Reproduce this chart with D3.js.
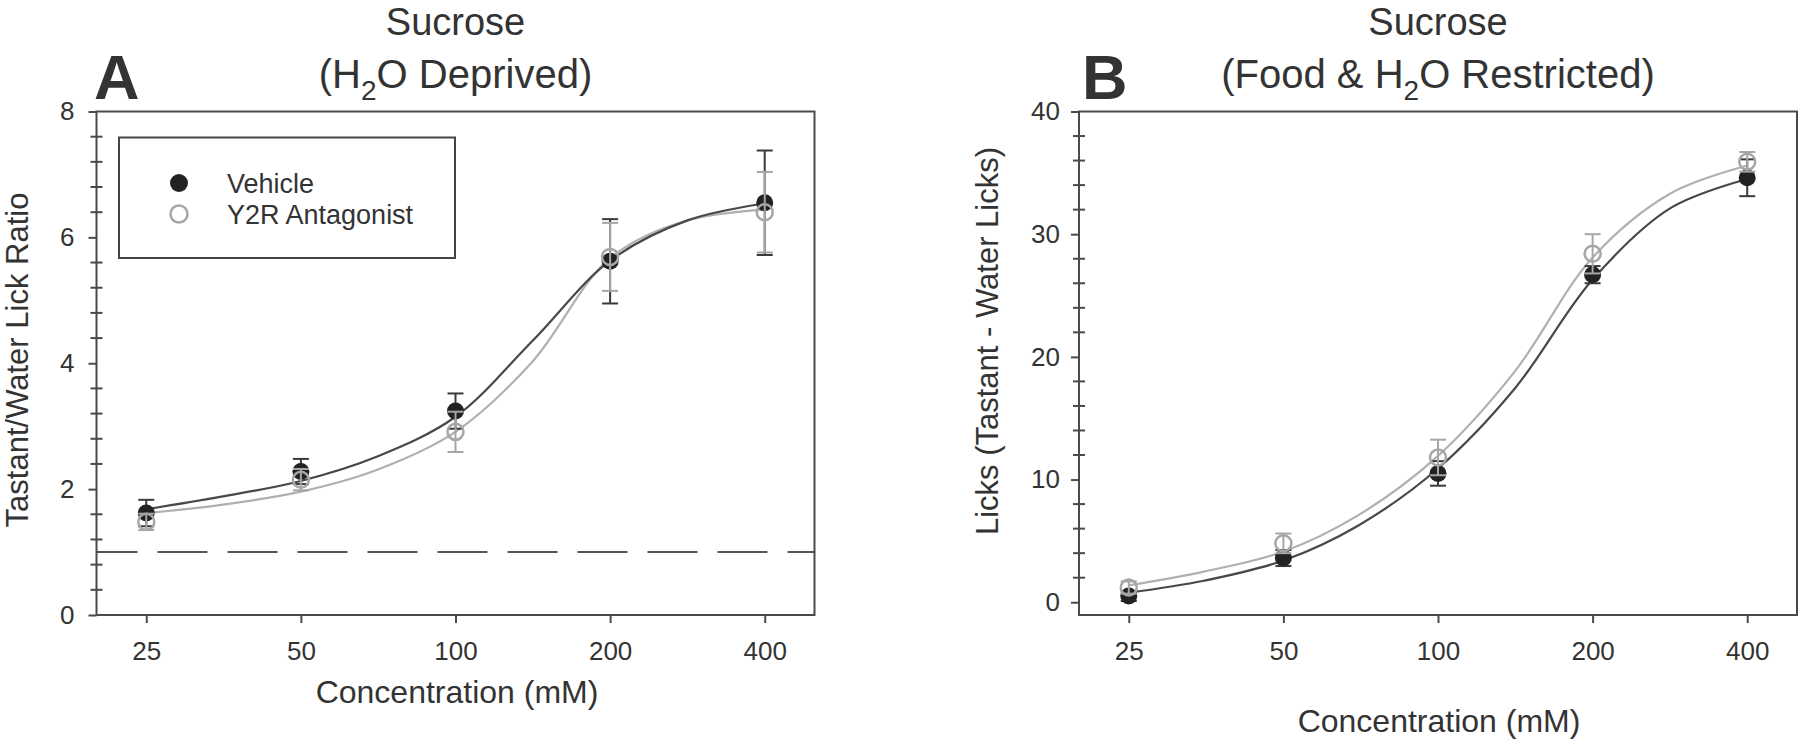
<!DOCTYPE html>
<html>
<head>
<meta charset="utf-8">
<script src="https://cdn.jsdelivr.net/npm/d3@7"></script>
<style>
  html, body { margin: 0; padding: 0; background: #fff; }
  svg { display: block; }
  text { font-family: "Liberation Sans", Arial, Helvetica, sans-serif; fill: #333; }
</style>
</head>
<body>
<svg id="chart" width="1800" height="739"></svg>
<script>
// ---------------- DATA ----------------
const conc = [25, 50, 100, 200, 400];
const xTickLabels = ["25", "50", "100", "200", "400"];

// Panel A: Tastant/Water Lick Ratio (H2O deprived)
const aVehicle     = [1.62, 2.28, 3.24, 5.62, 6.55];
const aVehicleSem  = [0.21, 0.20, 0.28, 0.67, 0.83];
const aAntag       = [1.48, 2.15, 2.91, 5.69, 6.40];
const aAntagSem    = [0.13, 0.17, 0.32, 0.54, 0.64];

// Panel B: Licks (Tastant - Water Licks) (Food & H2O restricted)
const bVehicle     = [0.5, 3.6, 10.5, 26.7, 34.6];
const bVehicleSem  = [0.4, 0.65, 1.0, 0.7, 1.5];
const bAntag       = [1.2, 4.8, 11.8, 28.4, 35.9];
const bAntagSem    = [0.5, 0.8, 1.45, 1.6, 0.8];

// Fitted curves
const fitConc      = [25, 35, 50, 70, 100, 141, 200, 283, 400];
const aVehicleFit  = [1.68, 1.88, 2.13, 2.51, 3.15, 4.35, 5.63, 6.27, 6.54];
const aAntagFit    = [1.62, 1.75, 1.96, 2.30, 2.91, 4.02, 5.67, 6.27, 6.44];
const bVehicleFit  = [0.78, 1.75, 3.4, 6.26, 10.9, 17.4, 26.3, 32.1, 34.5];
const bAntagFit    = [1.37, 2.5, 4.13, 7.1, 11.93, 18.8, 28.1, 33.3, 35.6];

const aYTicks = [0, 2, 4, 6, 8];
const bYTicks = [0, 10, 20, 30, 40];
const legendLabels = ["Vehicle", "Y2R Antagonist"];

// ---------------- STYLE ----------------
const AXIS = "#4a4a4a";
const DARK = "#222";
const DARKLINE = "#3a3a3a";
const LIGHT = "#a6a6a6";

const svg = d3.select("#chart");

function panel(opts) {
  const g = svg.append("g");
  const x = d3.scaleLog().domain([20, 500]).range([opts.left, opts.right]);
  const y = d3.scaleLinear().domain(opts.yDomain).range([615, 111.5]);

  // dashed reference line
  if (opts.refLine !== undefined) {
    g.append("line")
      .attr("x1", opts.left).attr("x2", opts.right)
      .attr("y1", y(opts.refLine)).attr("y2", y(opts.refLine))
      .attr("stroke", "#555").attr("stroke-width", 2)
      .attr("stroke-dasharray", "50,20").attr("stroke-dashoffset", 9);
  }

  // frame
  g.append("rect")
    .attr("x", opts.left).attr("y", 111.5)
    .attr("width", opts.right - opts.left).attr("height", 615 - 111.5)
    .attr("fill", "none").attr("stroke", AXIS).attr("stroke-width", 2);

  // x axis
  const xAxis = d3.axisBottom(x).tickValues(conc)
    .tickFormat((d, i) => xTickLabels[i]).tickSize(8).tickPadding(19);
  const gx = g.append("g").attr("transform", "translate(0,615)").call(xAxis);
  gx.select(".domain").remove();
  gx.selectAll("line").attr("stroke", AXIS).attr("stroke-width", 2);
  gx.selectAll("text").attr("font-size", 26).attr("fill", "#333")
    .style("font-family", '"Liberation Sans", Arial, sans-serif');

  // y axis major
  const yAxis = d3.axisLeft(y).tickValues(opts.yTicks).tickSize(8).tickPadding(opts.yPad);
  const gy = g.append("g").attr("transform", `translate(${opts.left},0)`).call(yAxis);
  gy.select(".domain").remove();
  gy.selectAll("line").attr("stroke", AXIS).attr("stroke-width", 2);
  gy.selectAll("text").attr("font-size", 26).attr("fill", "#333")
    .style("font-family", '"Liberation Sans", Arial, sans-serif');

  // y axis minor (crossing the spine)
  const minor = d3.range(opts.yTicks[0], opts.yTicks[opts.yTicks.length - 1] + 1e-9, opts.minorStep)
    .filter(v => opts.yTicks.every(t => Math.abs(t - v) > 1e-6));
  g.append("g").selectAll("line").data(minor).join("line")
    .attr("x1", opts.left - 6).attr("x2", opts.left + 6)
    .attr("y1", d => y(d)).attr("y2", d => y(d))
    .attr("stroke", AXIS).attr("stroke-width", 2);

  // curves
  const line = d3.line().x(d => x(d[0])).y(d => y(d[1])).curve(d3.curveCatmullRom.alpha(0.5));
  g.append("path").datum(fitConc.map((c, i) => [c, opts.antagFit[i]]))
    .attr("d", line).attr("fill", "none").attr("stroke", "#b0b0b0").attr("stroke-width", 2.2);
  g.append("path").datum(fitConc.map((c, i) => [c, opts.vehFit[i]]))
    .attr("d", line).attr("fill", "none").attr("stroke", "#484848").attr("stroke-width", 2.2);

  function errorBars(vals, sems, color) {
    const eg = g.append("g").attr("stroke", color).attr("stroke-width", 2);
    conc.forEach((c, i) => {
      const cx = x(c), y1 = y(vals[i] + sems[i]), y0 = y(vals[i] - sems[i]);
      eg.append("line").attr("x1", cx).attr("x2", cx).attr("y1", y1).attr("y2", y0);
      eg.append("line").attr("x1", cx - 8).attr("x2", cx + 8).attr("y1", y1).attr("y2", y1);
      eg.append("line").attr("x1", cx - 8).attr("x2", cx + 8).attr("y1", y0).attr("y2", y0);
    });
  }

  // vehicle
  errorBars(opts.veh, opts.vehSem, DARKLINE);
  g.append("g").selectAll("circle").data(conc).join("circle")
    .attr("cx", d => x(d)).attr("cy", (d, i) => y(opts.veh[i])).attr("r", 8.5)
    .attr("fill", DARK);

  // antagonist
  errorBars(opts.antag, opts.antagSem, LIGHT);
  g.append("g").selectAll("circle").data(conc).join("circle")
    .attr("cx", d => x(d)).attr("cy", (d, i) => y(opts.antag[i])).attr("r", 8)
    .attr("fill", "none").attr("stroke", LIGHT).attr("stroke-width", 2.5);

  // titles
  const cx = (opts.left + opts.right) / 2;
  svg.append("text").attr("x", cx).attr("y", 35).attr("text-anchor", "middle")
    .attr("font-size", 38).text("Sucrose");
  const t2 = svg.append("text").attr("x", cx).attr("y", 88).attr("text-anchor", "middle")
    .attr("font-size", 40);
  t2.append("tspan").text(opts.sub[0]);
  t2.append("tspan").attr("font-size", 28).attr("dy", 12).text("2");
  t2.append("tspan").attr("dy", -12).text(opts.sub[1]);

  svg.append("text").attr("x", opts.letterX).attr("y", 99)
    .attr("font-size", 63).attr("font-weight", "bold").attr("fill", "#2a2a2a").text(opts.letter);

  // axis titles
  svg.append("text").attr("x", opts.xTitleX).attr("y", opts.xTitleY).attr("text-anchor", "middle")
    .attr("font-size", 32).text("Concentration (mM)");
  svg.append("text")
    .attr("transform", `translate(${opts.yTitleX},${opts.yTitleY}) rotate(-90)`)
    .attr("text-anchor", "middle").attr("font-size", 31).text(opts.yTitle);

  return { g, x, y };
}

const A = panel({
  left: 96.5, right: 814.5, yDomain: [0, 8], yTicks: aYTicks, minorStep: 0.4, yPad: 14,
  refLine: 1,
  veh: aVehicle, vehSem: aVehicleSem, antag: aAntag, antagSem: aAntagSem,
  vehFit: aVehicleFit, antagFit: aAntagFit,
  sub: ["(H", "O Deprived)"], letter: "A", letterX: 94,
  xTitleX: 457, xTitleY: 703,
  yTitle: "Tastant/Water Lick Ratio", yTitleX: 28, yTitleY: 360
});

const B = panel({
  left: 1079, right: 1797, yDomain: [-1.04, 40], yTicks: bYTicks, minorStep: 2, yPad: 11,
  veh: bVehicle, vehSem: bVehicleSem, antag: bAntag, antagSem: bAntagSem,
  vehFit: bVehicleFit, antagFit: bAntagFit,
  sub: ["(Food & H", "O Restricted)"], letter: "B", letterX: 1082,
  xTitleX: 1439, xTitleY: 732,
  yTitle: "Licks (Tastant - Water Licks)", yTitleX: 998, yTitleY: 341
});

// legend in panel A
const lg = svg.append("g");
lg.append("rect").attr("x", 119).attr("y", 137.5).attr("width", 336).attr("height", 120.5)
  .attr("fill", "#fff").attr("stroke", "#444").attr("stroke-width", 2);
lg.append("circle").attr("cx", 179).attr("cy", 183).attr("r", 9).attr("fill", DARK);
lg.append("circle").attr("cx", 179).attr("cy", 214).attr("r", 8.5)
  .attr("fill", "none").attr("stroke", LIGHT).attr("stroke-width", 2.5);
lg.append("text").attr("x", 227).attr("y", 192.5).attr("font-size", 27).text(legendLabels[0]);
lg.append("text").attr("x", 227).attr("y", 223.5).attr("font-size", 27).text(legendLabels[1]);
</script>
</body>
</html>
